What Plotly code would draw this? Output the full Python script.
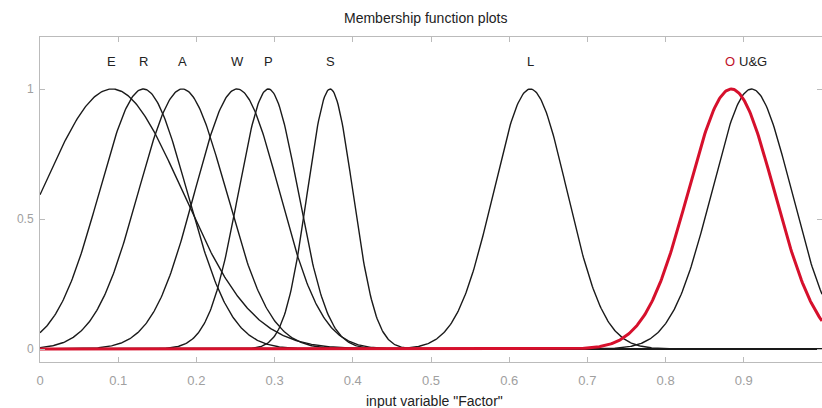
import numpy as np
import plotly.graph_objects as go

# gaussian membership functions of input variable "Factor"
mf_names = ["E", "R", "A", "W", "P", "S", "L", "O", "U&G"]
mf_centers = [0.092, 0.132, 0.182, 0.252, 0.292, 0.371, 0.627, 0.884, 0.910]
mf_sigmas = [0.090, 0.056, 0.056, 0.054, 0.038, 0.029, 0.047, 0.055, 0.051]
highlighted = "O"

x_ticks = [0, 0.1, 0.2, 0.3, 0.4, 0.5, 0.6, 0.7, 0.8, 0.9]
y_ticks = [0, 0.5, 1]

x = np.linspace(0, 1, 801)
FONT = "Liberation Sans"

fig = go.Figure()
for name, c, s in zip(mf_names, mf_centers, mf_sigmas):
    if name == highlighted:
        continue
    fig.add_trace(go.Scatter(
        x=x, y=np.exp(-((x - c) ** 2) / (2 * s ** 2)),
        mode="lines", line=dict(color="#1a1a1a", width=1.4),
        hoverinfo="skip", showlegend=False,
    ))

# the selected function is drawn on top in red
i = mf_names.index(highlighted)
fig.add_trace(go.Scatter(
    x=x, y=np.exp(-((x - mf_centers[i]) ** 2) / (2 * mf_sigmas[i] ** 2)),
    mode="lines", line=dict(color="#d6102c", width=3),
    hoverinfo="skip", showlegend=False,
))

for name, c in zip(mf_names, mf_centers):
    if name == highlighted:
        anchor, shift = "right", 6
    elif name == "U&G":
        anchor, shift = "left", -15
    else:
        anchor, shift = "center", 0
    fig.add_annotation(
        x=c, y=1.104, text=name, showarrow=False, xanchor=anchor, xshift=shift,
        font=dict(color="#c0102a" if name == highlighted else "#222222",
                  size=13, family=FONT),
    )

fig.add_annotation(x=0.493, y=1, xref="paper", yref="paper", yanchor="middle", yshift=19,
                   text="Membership function plots", showarrow=False,
                   font=dict(color="#222222", size=14, family=FONT))
fig.add_annotation(x=0.505, y=0, xref="paper", yref="paper", yanchor="middle", yshift=-39,
                   text='input variable "Factor"', showarrow=False,
                   font=dict(color="#222222", size=14, family=FONT))

fig.update_xaxes(
    range=[0, 1], tickmode="array", tickvals=x_ticks,
    ticktext=[f"{v:g}" for v in x_ticks],
    ticks="inside", ticklen=5, tickcolor="#bbbbbb", ticklabelstandoff=6,
    showline=True, linecolor="#bbbbbb", mirror="ticks", showgrid=False, zeroline=False,
    tickfont=dict(color="#a0a0a0", size=13, family=FONT),
)
fig.update_yaxes(
    range=[-0.05, 1.2], tickmode="array", tickvals=y_ticks,
    ticktext=[f"{v:g}" for v in y_ticks],
    ticks="inside", ticklen=5, tickcolor="#bbbbbb", ticklabelstandoff=3,
    showline=True, linecolor="#bbbbbb", mirror="ticks", showgrid=False, zeroline=False,
    tickfont=dict(color="#a0a0a0", size=12, family=FONT),
)
fig.update_layout(
    width=822, height=408,
    plot_bgcolor="white", paper_bgcolor="white",
    margin=dict(l=40, r=0, t=37, b=46),
    showlegend=False,
)
fig.write_html(
    "out.html",
    config={"displayModeBar": False},
    post_script="document.body.style.margin='0';document.body.style.overflow='hidden';",
)
